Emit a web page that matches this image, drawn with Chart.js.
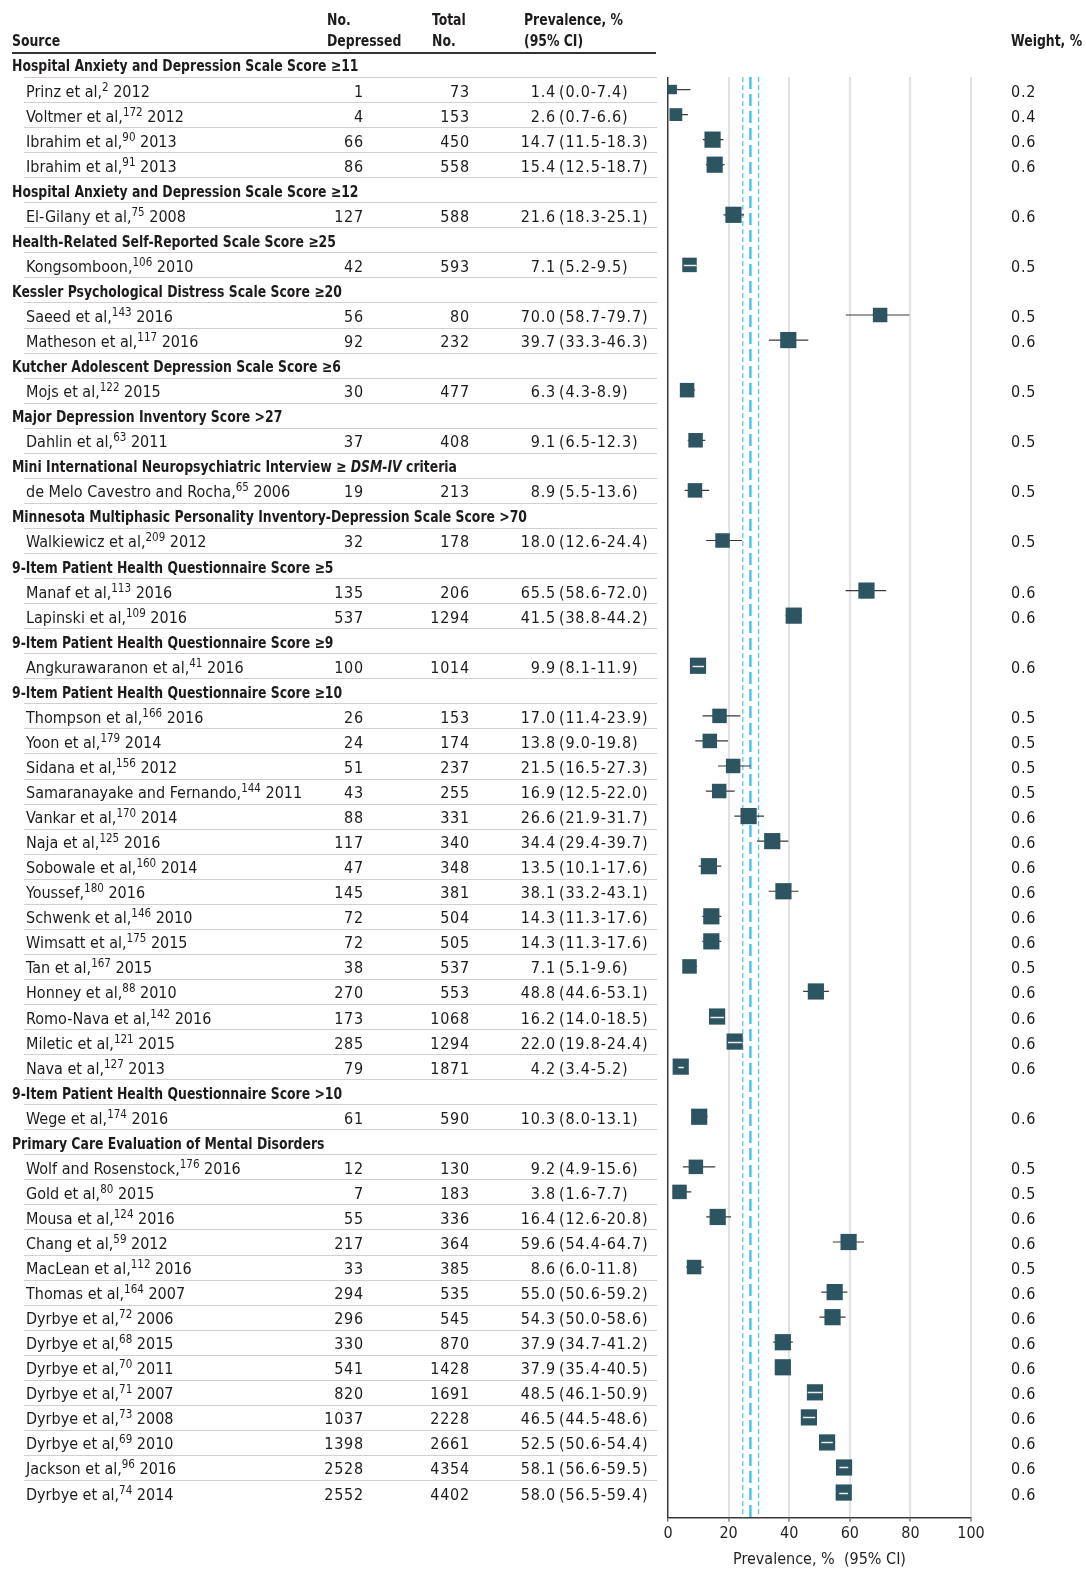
<!DOCTYPE html>
<html>
<head>
<meta charset="utf-8">
<script src="https://cdn.jsdelivr.net/npm/chart.js@4.4.1/dist/chart.umd.min.js"></script>
<style>
  body { margin: 0; background: #fff; }
  #wrap { position: relative; width: 1086px; height: 1570px; overflow: hidden; }
  #chart { position: absolute; left: 0; top: 0; }
  #table { position: absolute; left: 0; top: 0; width: 1086px; height: 1570px; color: #1e1b1c; font-size: 16px; }
  .t { position: absolute; white-space: nowrap; line-height: 20px; height: 20px; }
  .b { font-weight: bold; }
  .n { letter-spacing: 0.8px; }
  .r { text-align: right; transform-origin: right center; }
  .l { transform-origin: left center; }
  sup { font-size: 0.72em; line-height: 0; vertical-align: 0.5em; }
  .sep { position: absolute; height: 1px; background: #d0d0d0; }
  .rule { position: absolute; height: 2px; background: #333; }
</style>
</head>
<body>
<div id="wrap">
  <canvas id="chart" width="1086" height="1570"></canvas>
  <div id="table"></div>
</div>
<script>
const FONT = '"Liberation Sans Narrow", "DejaVu Sans Condensed", "Roboto Condensed", "Liberation Sans", sans-serif';

const GROUPS = [
  'Hospital Anxiety and Depression Scale Score ≥11',
  'Hospital Anxiety and Depression Scale Score ≥12',
  'Health-Related Self-Reported Scale Score ≥25',
  'Kessler Psychological Distress Scale Score ≥20',
  'Kutcher Adolescent Depression Scale Score ≥6',
  'Major Depression Inventory Score >27',
  'Mini International Neuropsychiatric Interview ≥ DSM-IV criteria',
  'Minnesota Multiphasic Personality Inventory-Depression Scale Score >70',
  '9-Item Patient Health Questionnaire Score ≥5',
  '9-Item Patient Health Questionnaire Score ≥9',
  '9-Item Patient Health Questionnaire Score ≥10',
  '9-Item Patient Health Questionnaire Score >10',
  'Primary Care Evaluation of Mental Disorders'
];

const STUDY_GROUP = [0, 0, 0, 0, 1, 2, 3, 3, 4, 5, 6, 7, 8, 8, 9,
  10, 10, 10, 10, 10, 10, 10, 10, 10, 10, 10, 10, 10, 10, 10,
  11, 12, 12, 12, 12, 12, 12, 12, 12, 12, 12, 12, 12, 12, 12];

const AUTHORS = ['Prinz et al,', 'Voltmer et al,', 'Ibrahim et al,', 'Ibrahim et al,',
  'El-Gilany et al,', 'Kongsomboon,', 'Saeed et al,', 'Matheson et al,', 'Mojs et al,',
  'Dahlin et al,', 'de Melo Cavestro and Rocha,', 'Walkiewicz et al,', 'Manaf et al,',
  'Lapinski et al,', 'Angkurawaranon et al,', 'Thompson et al,', 'Yoon et al,', 'Sidana et al,',
  'Samaranayake and Fernando,', 'Vankar et al,', 'Naja et al,', 'Sobowale et al,', 'Youssef,',
  'Schwenk et al,', 'Wimsatt et al,', 'Tan et al,', 'Honney et al,', 'Romo-Nava et al,',
  'Miletic et al,', 'Nava et al,', 'Wege et al,', 'Wolf and Rosenstock,', 'Gold et al,',
  'Mousa et al,', 'Chang et al,', 'MacLean et al,', 'Thomas et al,', 'Dyrbye et al,',
  'Dyrbye et al,', 'Dyrbye et al,', 'Dyrbye et al,', 'Dyrbye et al,', 'Dyrbye et al,',
  'Jackson et al,', 'Dyrbye et al,'];
const REFS = [2, 172, 90, 91, 75, 106, 143, 117, 122, 63, 65, 209, 113, 109, 41,
  166, 179, 156, 144, 170, 125, 160, 180, 146, 175, 167, 88, 142, 121, 127,
  174, 176, 80, 124, 59, 112, 164, 72, 68, 70, 71, 73, 69, 96, 74];
const YEARS = [2012, 2012, 2013, 2013, 2008, 2010, 2016, 2016, 2015, 2011, 2006, 2012, 2016, 2016, 2016,
  2016, 2014, 2012, 2011, 2014, 2016, 2014, 2016, 2010, 2015, 2015, 2010, 2016, 2015, 2013,
  2016, 2016, 2015, 2016, 2012, 2016, 2007, 2006, 2015, 2011, 2007, 2008, 2010, 2016, 2014];

const DEPRESSED = [1, 4, 66, 86, 127, 42, 56, 92, 30, 37, 19, 32, 135, 537, 100,
  26, 24, 51, 43, 88, 117, 47, 145, 72, 72, 38, 270, 173, 285, 79,
  61, 12, 7, 55, 217, 33, 294, 296, 330, 541, 820, 1037, 1398, 2528, 2552];
const TOTALS = [73, 153, 450, 558, 588, 593, 80, 232, 477, 408, 213, 178, 206, 1294, 1014,
  153, 174, 237, 255, 331, 340, 348, 381, 504, 505, 537, 553, 1068, 1294, 1871,
  590, 130, 183, 336, 364, 385, 535, 545, 870, 1428, 1691, 2228, 2661, 4354, 4402];
const PREV = [1.4, 2.6, 14.7, 15.4, 21.6, 7.1, 70.0, 39.7, 6.3, 9.1, 8.9, 18.0, 65.5, 41.5, 9.9,
  17.0, 13.8, 21.5, 16.9, 26.6, 34.4, 13.5, 38.1, 14.3, 14.3, 7.1, 48.8, 16.2, 22.0, 4.2,
  10.3, 9.2, 3.8, 16.4, 59.6, 8.6, 55.0, 54.3, 37.9, 37.9, 48.5, 46.5, 52.5, 58.1, 58.0];
const CI_LOW = [0.0, 0.7, 11.5, 12.5, 18.3, 5.2, 58.7, 33.3, 4.3, 6.5, 5.5, 12.6, 58.6, 38.8, 8.1,
  11.4, 9.0, 16.5, 12.5, 21.9, 29.4, 10.1, 33.2, 11.3, 11.3, 5.1, 44.6, 14.0, 19.8, 3.4,
  8.0, 4.9, 1.6, 12.6, 54.4, 6.0, 50.6, 50.0, 34.7, 35.4, 46.1, 44.5, 50.6, 56.6, 56.5];
const CI_HIGH = [7.4, 6.6, 18.3, 18.7, 25.1, 9.5, 79.7, 46.3, 8.9, 12.3, 13.6, 24.4, 72.0, 44.2, 11.9,
  23.9, 19.8, 27.3, 22.0, 31.7, 39.7, 17.6, 43.1, 17.6, 17.6, 9.6, 53.1, 18.5, 24.4, 5.2,
  13.1, 15.6, 7.7, 20.8, 64.7, 11.8, 59.2, 58.6, 41.2, 40.5, 50.9, 48.6, 54.4, 59.5, 59.4];
const WEIGHTS = [0.2, 0.4, 0.6, 0.6, 0.6, 0.5, 0.5, 0.6, 0.5, 0.5, 0.5, 0.5, 0.6, 0.6, 0.6,
  0.5, 0.5, 0.5, 0.5, 0.6, 0.6, 0.6, 0.6, 0.6, 0.6, 0.5, 0.6, 0.6, 0.6, 0.6,
  0.6, 0.5, 0.5, 0.6, 0.6, 0.5, 0.6, 0.6, 0.6, 0.6, 0.6, 0.6, 0.6, 0.6, 0.6];

// pooled estimate 27.2 (24.7-29.9)
const POOLED = [27.2, 24.7, 29.9];
const X_TICKS = [0, 20, 40, 60, 80, 100];

const BOX_COLOR = '#2d5461';
const REF_COLOR = '#4cc3ef';

// one row per group header, then its studies
const rows = [];
GROUPS.forEach((g, gi) => {
  rows.push({ type: 'group', gi });
  STUDY_GROUP.forEach((sg, si) => {
    if (sg === gi) rows.push({ type: 'study', si });
  });
});
const studyRow = [];
rows.forEach((r, i) => { if (r.type === 'study') studyRow[r.si] = i; });
const lastRow = rows.length - 1;

function boxSide(w) {
  return 6 + 17 * w;
}

const ciPoints = [];
PREV.forEach((p, i) => {
  ciPoints.push({ x: CI_LOW[i], y: studyRow[i] });
  ciPoints.push({ x: CI_HIGH[i], y: studyRow[i] });
  ciPoints.push({ x: null, y: null });
});

function refLine(v) {
  return [{ x: v, y: 0.5 }, { x: v, y: lastRow + 1 }];
}

// white line through boxes that are wider than their CI
const innerCiPlugin = {
  id: 'innerCi',
  afterDatasetsDraw(chart) {
    const xs = chart.scales.x;
    const ys = chart.scales.y;
    const ctx = chart.ctx;
    ctx.save();
    ctx.strokeStyle = '#e8eef0';
    ctx.lineWidth = 1.5;
    PREV.forEach((p, i) => {
      const lo = xs.getPixelForValue(CI_LOW[i]);
      const hi = xs.getPixelForValue(CI_HIGH[i]);
      if (hi - lo < boxSide(WEIGHTS[i]) - 1) {
        const y = Math.round(ys.getPixelForValue(studyRow[i])) + 0.5;
        ctx.beginPath();
        ctx.moveTo(lo, y);
        ctx.lineTo(hi, y);
        ctx.stroke();
      }
    });
    ctx.restore();
  }
};

Chart.defaults.font.family = FONT;
Chart.defaults.color = '#231f20';

const ctx = document.getElementById('chart').getContext('2d');
const chart = new Chart(ctx, {
  type: 'scatter',
  data: {
    datasets: [
      {
        type: 'scatter',
        data: PREV.map((p, i) => ({ x: p, y: studyRow[i] })),
        pointStyle: 'rect',
        pointRadius: WEIGHTS.map(w => boxSide(w) / Math.SQRT2),
        backgroundColor: BOX_COLOR,
        borderWidth: 0,
        clip: false,
        order: 1
      },
      {
        type: 'line',
        data: ciPoints,
        borderColor: '#3b3b3b',
        borderWidth: 1.2,
        pointRadius: 0,
        spanGaps: false,
        order: 2
      },
      {
        type: 'line',
        data: refLine(POOLED[0]),
        borderColor: REF_COLOR,
        borderWidth: 2.5,
        borderDash: [12, 5],
        pointRadius: 0,
        order: 3
      },
      {
        type: 'line',
        data: refLine(POOLED[1]),
        borderColor: REF_COLOR,
        borderWidth: 1.2,
        borderDash: [5, 3],
        pointRadius: 0,
        order: 3
      },
      {
        type: 'line',
        data: refLine(POOLED[2]),
        borderColor: REF_COLOR,
        borderWidth: 1.2,
        borderDash: [5, 3],
        pointRadius: 0,
        order: 3
      }
    ]
  },
  options: {
    responsive: false,
    animation: false,
    events: [],
    layout: {
      padding: { left: 668, right: 115, top: 77, bottom: 0 }
    },
    plugins: {
      legend: { display: false },
      tooltip: { enabled: false }
    },
    scales: {
      x: {
        type: 'linear',
        min: X_TICKS[0],
        max: X_TICKS[X_TICKS.length - 1],
        afterBuildTicks: axis => { axis.ticks = X_TICKS.map(v => ({ value: v })); },
        ticks: {
          font: { size: 16 },
          color: '#231f20',
          padding: 3
        },
        grid: {
          color: c => (c.tick && c.tick.value === 0 ? '#3a3a3a' : '#e2e2e2'),
          lineWidth: c => (c.tick && c.tick.value === 0 ? 1.5 : 2),
          tickColor: '#3a3a3a',
          tickLength: 4,
          tickWidth: 1
        },
        border: { color: '#3a3a3a', width: 1.5 },
        title: {
          display: true,
          text: 'Prevalence, %  (95% CI)',
          font: { size: 16 },
          color: '#231f20',
          padding: { top: 3, bottom: 1 }
        }
      },
      y: {
        type: 'linear',
        min: 0.5,
        max: lastRow + 1,
        reverse: true,
        display: false
      }
    }
  },
  plugins: [innerCiPlugin]
});

// ---- table text, placed on the chart's own y scale ----
const table = document.getElementById('table');
table.style.fontFamily = FONT;

// bold headings are squeezed to the reference width, regular text is left as is
const probe = document.createElement('canvas').getContext('2d');
probe.font = 'bold 16px ' + FONT;
const squeeze = Math.min(1, 515 / probe.measureText(GROUPS[7]).width);

function addText(html, x, baseline, opts = {}) {
  const el = document.createElement('div');
  el.className = 't' + (opts.bold ? ' b' : '') + (opts.num ? ' n' : '') + (opts.right ? ' r' : ' l');
  el.innerHTML = html;
  el.style.top = (baseline - 15) + 'px';
  if (opts.right) {
    el.style.right = (1086 - x - (opts.num ? 1 : 0)) + 'px';
  } else {
    el.style.left = x + 'px';
  }
  if (opts.bold) el.style.transform = 'scaleX(' + squeeze + ')';
  table.appendChild(el);
}

function addLine(cls, x1, x2, y) {
  const el = document.createElement('div');
  el.className = cls;
  el.style.left = x1 + 'px';
  el.style.width = (x2 - x1) + 'px';
  el.style.top = y + 'px';
  table.appendChild(el);
}

// column headers
addText('No.', 327, 25, { bold: true });
addText('Depressed', 327, 46, { bold: true });
addText('Total', 432, 25, { bold: true });
addText('No.', 432, 46, { bold: true });
addText('Prevalence, %', 524, 25, { bold: true });
addText('(95% CI)', 524, 46, { bold: true });
addText('Source', 12, 46, { bold: true });
addText('Weight, %', 1011, 46, { bold: true });
addLine('rule', 12, 656, 52);

const yScale = chart.scales.y;
rows.forEach((r, i) => {
  const yc = yScale.getPixelForValue(i);
  const base = Math.round(yc + 7);
  if (r.type === 'group') {
    addText(GROUPS[r.gi].replace('DSM-IV', '<i>DSM-IV</i>'), 12, base, { bold: true });
  } else {
    const s = r.si;
    addText(AUTHORS[s] + '<sup>' + REFS[s] + '</sup> ' + YEARS[s], 26, base);
    addText(String(DEPRESSED[s]), 363, base, { right: true, num: true });
    addText(String(TOTALS[s]), 469, base, { right: true, num: true });
    addText(PREV[s].toFixed(1), 555, base, { right: true, num: true });
    addText('(' + CI_LOW[s].toFixed(1) + '-' + CI_HIGH[s].toFixed(1) + ')', 559, base, { num: true });
    addText(WEIGHTS[s].toFixed(1), 1011, base, { num: true });
  }
  if (i < lastRow) {
    addLine('sep', 24, 657, Math.round(yScale.getPixelForValue(i + 0.5)));
  }
});
</script>
</body>
</html>
